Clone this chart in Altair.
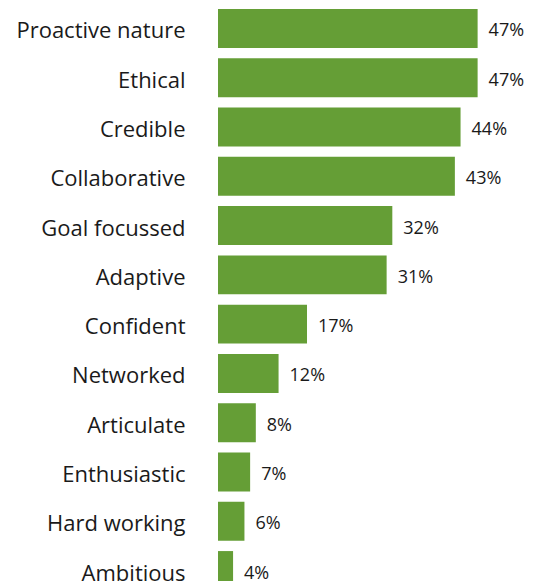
import altair as alt
import pandas as pd

categories = ["Proactive nature", "Ethical", "Credible", "Collaborative", "Goal focussed",
              "Adaptive", "Confident", "Networked", "Articulate", "Enthusiastic",
              "Hard working", "Ambitious"]
values = [47, 47, 44, 43, 32, 31, 17, 12, 8, 7, 6, 4]
labels = ["47%", "47%", "44%", "43%", "32%", "31%", "17%", "12%", "8%", "7%", "6%", "4%"]

df = pd.DataFrame({"trait": categories, "value": values, "label": labels})

BASE = 1.35

y_enc = alt.Y(
    "trait:N", sort=None,
    scale=alt.Scale(range=[1, 582], paddingInner=0.21, paddingOuter=0),
    axis=alt.Axis(title=None, domain=False, ticks=False, labelPadding=33,
                  labelFontSize=22, labelFont="Open Sans", labelColor="#1a1a1a",
                  labelOffset=3, labelLimit=260),
)
x_enc = alt.X("value:Q", scale=alt.Scale(domain=[BASE, 54.1], zero=False, nice=False), axis=None)

bars = alt.Chart(df).mark_bar(color="#659e36").encode(y=y_enc, x=x_enc, x2=alt.datum(BASE))
text = alt.Chart(df).mark_text(
    align="left", baseline="middle", dx=11, dy=3, font="Open Sans", fontSize=18, color="#1a1a1a"
).encode(y=alt.Y("trait:N", sort=None), x="value:Q", text="label:N")

chart = (bars + text).properties(
    width=300, height=573,
    autosize=alt.AutoSizeParams(type="none"),
    padding={"left": 210, "top": 0, "right": 7, "bottom": 0},
).configure_view(stroke=None)

chart.save("out.html", embed_options={"renderer": "svg", "actions": False})
